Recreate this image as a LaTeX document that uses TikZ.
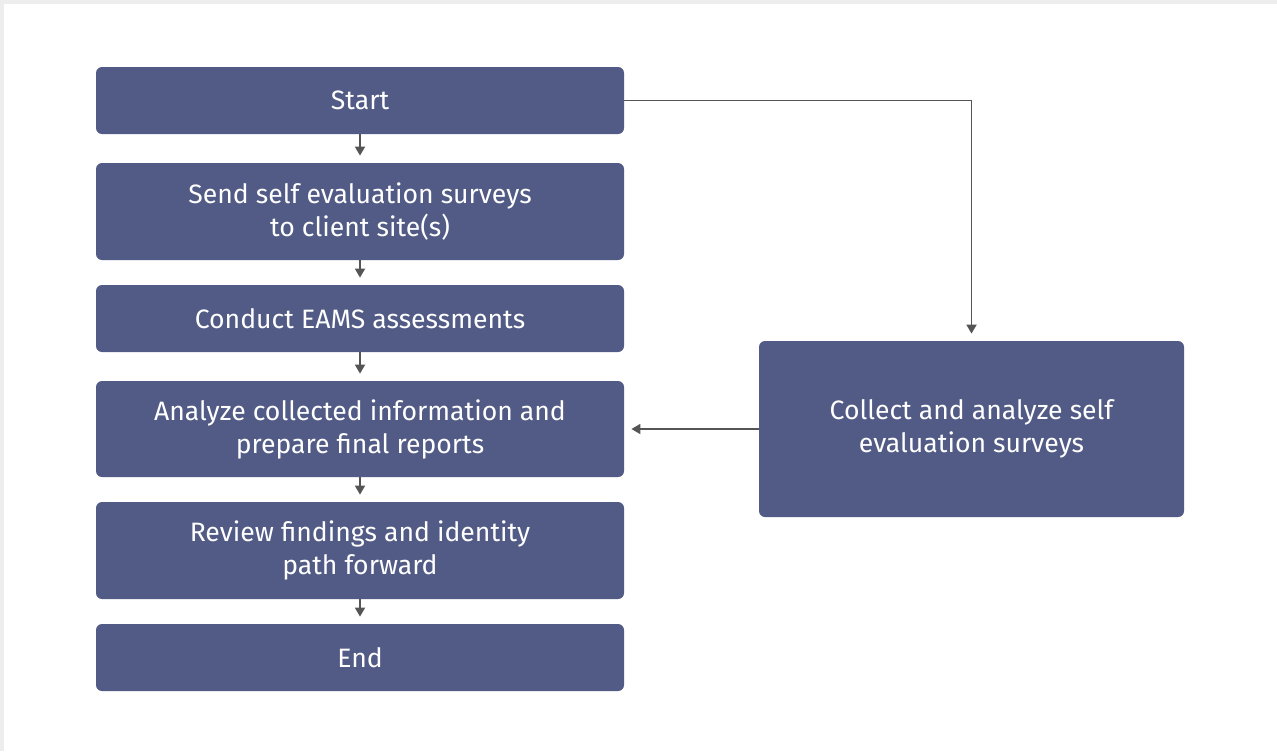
\documentclass[tikz,border=0pt]{standalone}
\usepackage{fontspec}
\setmainfont{Fira Sans}
\usetikzlibrary{arrows.meta}
\definecolor{boxc}{RGB}{82,91,133}
\definecolor{linec}{RGB}{85,85,85}
\definecolor{bgc}{RGB}{237,237,237}
\begin{document}
\begin{tikzpicture}[x=0.5pt,y=-0.5pt,
  stepbox/.style={draw=none,fill=boxc,rounded corners=3pt,text=white,align=center,
    font=\fontsize{13.3pt}{16.5pt}\selectfont,inner sep=0pt},
  flow/.style={draw=linec,line width=0.9pt,-{Triangle[length=4.5pt,width=5pt]},shorten >=3.5pt}]
\fill[bgc] (0,0) rectangle (1277,751);
\fill[white] (4,4) rectangle (1277,751);
\useasboundingbox (0,0) rectangle (1277,751);
\node[stepbox,minimum width=264pt,minimum height=33.5pt] (start) at (360,100.5) {Start};
\node[stepbox,minimum width=264pt,minimum height=48.5pt] (send) at (360,211.5) {Send self evaluation surveys\\to client site(s)};
\node[stepbox,minimum width=264pt,minimum height=33.5pt] (conduct) at (360,318.5) {Conduct EAMS assessments};
\node[stepbox,minimum width=264pt,minimum height=48pt] (analyze) at (360,429) {Analyze collected information and\\prepare final reports};
\node[stepbox,minimum width=264pt,minimum height=48.5pt] (review) at (360,550.5) {Review findings and identity\\path forward};
\node[stepbox,minimum width=264pt,minimum height=33.5pt] (end) at (360,657.5) {End};
\node[stepbox,minimum width=212.5pt,minimum height=88pt] (collect) at (971.5,429) {Collect and analyze self\\evaluation surveys};
\draw[flow] (start) -- (send);
\draw[flow] (send) -- (conduct);
\draw[flow] (conduct) -- (analyze);
\draw[flow] (analyze) -- (review);
\draw[flow] (review) -- (end);
\draw[flow] (start.east) -- (start.east -| collect.north) -- (collect.north);
\draw[flow] (collect.west) -- (analyze.east);
\end{tikzpicture}
\end{document}
